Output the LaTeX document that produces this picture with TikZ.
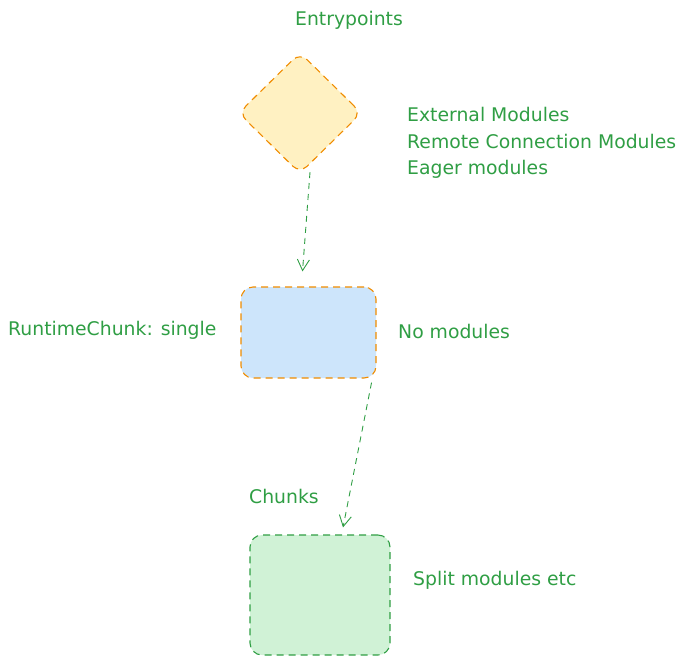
\documentclass[tikz,border=0pt]{standalone}
\usepackage{fontspec}
\setmainfont{DejaVu Sans}
\usetikzlibrary{arrows.meta,shapes.geometric}
\definecolor{inkgreen}{HTML}{2F9E44}
\definecolor{inkorange}{HTML}{F08C00}
\definecolor{padyellow}{HTML}{FFF1C2}
\definecolor{padblue}{HTML}{CDE5FB}
\definecolor{padgreen}{HTML}{D0F2D6}
\tikzset{
	lbl/.style={text=inkgreen,font=\fontsize{18.8}{26.5}\selectfont,inner sep=0pt},
	pad/.style={draw,line width=1.1pt,dash pattern=on 7pt off 5pt,rounded corners=12pt},
	link/.style={draw=inkgreen,line width=0.9pt,dash pattern=on 6pt off 5pt,
		-{Straight Barb[length=11pt,width=12pt]}}
}
\begin{document}
\begin{tikzpicture}[x=1pt,y=-1pt]
	\useasboundingbox(0,0)rectangle(700,662);
	% shapes
	\node[pad,diamond,draw=inkorange,fill=padyellow,minimum width=123pt,minimum height=121pt,inner sep=0pt,rounded corners=10pt](entry)at(300,113){};
	\node[pad,draw=inkorange,fill=padblue,minimum width=135pt,minimum height=91pt](runtime)at(308.5,332.5){};
	\node[pad,draw=inkgreen,fill=padgreen,minimum width=140pt,minimum height=120pt](chunks)at(320,595){};
	% labels
	\node[lbl](entrytitle)at(349,20){Entrypoints};
	\node[lbl,anchor=west,align=left](entrymods)at(407,143){External Modules\\Remote Connection Modules\\Eager modules};
	\node[lbl,anchor=west](runtimetitle)at(8,330){RuntimeChunk: single};
	\node[lbl,anchor=west](runtimemods)at(398,331){No modules};
	\node[lbl,anchor=west](chunkstitle)at(249,496){Chunks};
	\node[lbl,anchor=west](chunksmods)at(413,580){Split modules etc};
	% arrows
	\draw[link]([xshift=10pt,yshift=2pt]entry.south)--([xshift=-6pt,yshift=15pt]runtime.north);
	\draw[link]([xshift=-5pt,yshift=-4pt]runtime.south east)--([xshift=23pt,yshift=7pt]chunks.north);
\end{tikzpicture}
\end{document}
